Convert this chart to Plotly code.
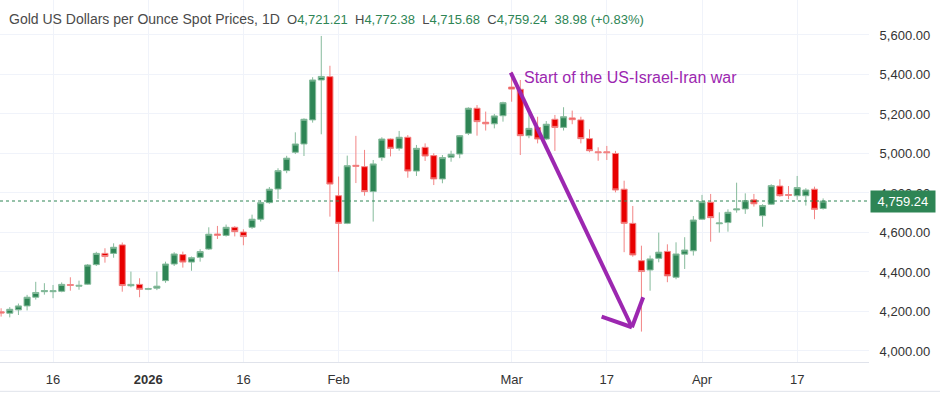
import pandas as pd
import plotly.graph_objects as go

# ---- data ----
holidays = ["2025-12-25", "2026-04-03"]
dates = [d.strftime("%Y-%m-%d") for d in pd.bdate_range("2025-12-08", "2026-04-22")
         if d.strftime("%Y-%m-%d") not in holidays]

opens = [4198, 4191, 4208, 4228, 4272, 4300, 4300, 4302, 4336, 4328,
         4338, 4437, 4494, 4494, 4537, 4330, 4337, 4312, 4318, 4356,
         4440, 4488, 4450, 4474, 4516, 4592, 4585, 4626, 4602, 4626,
         4667, 4751, 4820, 4913, 5006, 5048, 5170, 5372, 5389, 4786,
         4646, 4940, 4933, 4807, 4979, 5073, 5026, 5082, 4911, 5031,
         4989, 4871, 4981, 4997, 5102, 5229, 5158, 5150, 5191, 5336,
         5325, 5090, 5131, 5073, 5173, 5132, 5180, 5170, 5075, 5008,
         5008, 5000, 4819, 4646, 4457, 4410, 4469, 4504, 4373, 4490,
         4507, 4667, 4753, 4644, 4650, 4714, 4719, 4765, 4685, 4743,
         4835, 4792, 4786, 4786, 4819, 4721.21]
highs = [4216, 4222, 4240, 4284, 4350, 4343, 4334, 4347, 4373, 4356,
         4440, 4502, 4520, 4545, 4549, 4402, 4368, 4320, 4402, 4452,
         4500, 4503, 4478, 4515, 4626, 4633, 4640, 4632, 4616, 4690,
         4762, 4830, 4925, 4988, 5107, 5178, 5386, 5595, 5444, 4883,
         4989, 5089, 5018, 4967, 5082, 5076, 5114, 5093, 5043, 5051,
         5001, 4992, 5014, 5093, 5234, 5245, 5212, 5200, 5262, 5414,
         5372, 5200, 5186, 5164, 5195, 5234, 5217, 5186, 5122, 5031,
         5038, 5013, 4862, 4734, 4533, 4483, 4599, 4540, 4550, 4576,
         4683, 4790, 4795, 4702, 4717, 4852, 4798, 4795, 4743, 4844,
         4869, 4835, 4886, 4824, 4832, 4772.38]
lows = [4174, 4170, 4182, 4205, 4260, 4285, 4267, 4297, 4305, 4310,
        4334, 4430, 4447, 4472, 4300, 4322, 4272, 4308, 4308, 4345,
        4430, 4422, 4406, 4452, 4511, 4567, 4579, 4580, 4535, 4618,
        4655, 4745, 4770, 4900, 4997, 4987, 5156, 5097, 4680, 4401,
        4642, 4850, 4786, 4655, 4963, 4985, 5014, 4877, 4886, 4962,
        4840, 4849, 4958, 4976, 5093, 5090, 5116, 5127, 5161, 5262,
        4992, 5077, 5051, 5068, 5013, 5116, 5148, 5051, 5006, 4963,
        4967, 4803, 4500, 4477, 4098, 4305, 4449, 4348, 4363, 4415,
        4483, 4663, 4553, 4599, 4604, 4700, 4694, 4731, 4629, 4739,
        4781, 4768, 4765, 4736, 4667, 4715.68]
closes = [4192, 4211, 4228, 4272, 4296, 4306, 4305, 4337, 4332, 4332,
          4435, 4494, 4478, 4525, 4331, 4337, 4312, 4316, 4328, 4440,
          4491, 4450, 4472, 4503, 4591, 4586, 4626, 4604, 4579, 4667,
          4751, 4819, 4913, 4976, 5048, 5173, 5372, 5390, 4845, 4646,
          4938, 4935, 4807, 4947, 5073, 5026, 5082, 4911, 5026, 4987,
          4871, 4979, 4996, 5090, 5229, 5161, 5150, 5190, 5257, 5326,
          5090, 5127, 5073, 5148, 5132, 5186, 5171, 5075, 5014, 5004,
          5004, 4815, 4646, 4486, 4402, 4466, 4500, 4380, 4491, 4511,
          4663, 4756, 4675, 4648, 4702, 4719, 4761, 4745, 4736, 4837,
          4786, 4788, 4827, 4815, 4717, 4759.24]

tick_dates = ["2025-12-16", "2026-01-01", "2026-01-16", "2026-02-02",
              "2026-03-02", "2026-03-17", "2026-04-01", "2026-04-17"]
tick_labels = ["16", "<b>2026</b>", "16", "Feb", "Mar", "17", "Apr", "17"]
y_ticks = [4000, 4200, 4400, 4600, 4800, 5000, 5200, 5400, 5600]

last_price = closes[-1]
title_text = "Gold US Dollars per Ounce Spot Prices, 1D"
ohlc_text = {"O": "4,721.21", "H": "4,772.38", "L": "4,715.68", "C": "4,759.24"}
change_text = "38.98 (+0.83%)"
note_text = "Start of the US-Israel-Iran war"

# ---- styling ----
GREEN = "#2E8555"
GREEN_WICK = "#86BB9C"
RED = "#E80000"
RED_WICK = "#F28585"
PURPLE = "#9C27B0"
GRID = "#F0F3FA"
FONT = "Liberation Sans"

fig = go.Figure()
fig.add_trace(go.Candlestick(
    x=dates, open=opens, high=highs, low=lows, close=closes,
    increasing=dict(line=dict(color=GREEN_WICK, width=1), fillcolor=GREEN),
    decreasing=dict(line=dict(color=RED_WICK, width=1), fillcolor=RED),
    whiskerwidth=0, showlegend=False, hoverinfo="skip",
))

# current price dotted line
fig.add_shape(type="line", xref="paper", x0=0, x1=1, yref="y",
              y0=last_price, y1=last_price,
              line=dict(color=GREEN, width=1, dash="dot"))

# purple arrow (shaft + head), positions in bar-index units on the category axis
arrow = dict(color=PURPLE, width=4)
fig.add_shape(type="line", xref="x", yref="y", x0=58.9, y0=5409, x1=72.9, y1=4120, line=arrow)
fig.add_shape(type="line", xref="x", yref="y", x0=69.4, y0=4174, x1=72.9, y1=4120, line=arrow)
fig.add_shape(type="line", xref="x", yref="y", x0=72.9, y0=4120, x1=74.2, y1=4272, line=arrow)

fig.add_annotation(x=60.2, y=5384, xref="x", yref="y", text=note_text,
                   showarrow=False, xanchor="left", yanchor="middle",
                   font=dict(family=FONT, size=16, color=PURPLE))

# header
grey = "#4A4A4A"
parts = [f"<span style='font-size:14px'>{title_text}</span>&nbsp;&nbsp;"]
for k, v in ohlc_text.items():
    parts.append(f"<span style='color:{grey}'>{k}</span><span style='color:{GREEN}'>{v}</span>&nbsp;&nbsp;")
parts.append(f"<span style='color:{GREEN}'>{change_text}</span>")
fig.add_annotation(xref="paper", yref="paper", x=0, y=1, xshift=7, yshift=-9,
                   xanchor="left", yanchor="top", showarrow=False,
                   text="".join(parts), font=dict(family=FONT, size=13, color=grey))

# last price label
fig.add_annotation(xref="paper", yref="y", x=1, y=last_price, xshift=1,
                   xanchor="left", yanchor="middle", showarrow=False,
                   text=f"&nbsp;{last_price:,.2f}&nbsp;", bgcolor=GREEN, borderpad=3,
                   font=dict(family=FONT, size=13, color="white"))

# bottom border line of the widget
fig.add_shape(type="line", xref="paper", yref="paper", x0=0, x1=1.09,
              y0=-0.081, y1=-0.081, line=dict(color="#E0E3EB", width=1))

fig.update_layout(
    width=940, height=393,
    margin=dict(l=0, r=71, t=0, b=31),
    paper_bgcolor="white", plot_bgcolor="white",
    boxgap=0.3, boxgroupgap=0,
    font=dict(family=FONT, size=13, color="#333333"),
    showlegend=False,
    xaxis=dict(
        type="category", range=[-0.13, 100.3],
        rangeslider=dict(visible=False),
        tickmode="array", tickvals=tick_dates, ticktext=tick_labels,
        showgrid=True, gridcolor=GRID, gridwidth=1,
        showline=True, linecolor="#E0E3EB", linewidth=1,
        ticks="outside", ticklen=5, tickcolor="rgba(0,0,0,0)",
        tickfont=dict(family=FONT, size=13, color="#333333"),
        zeroline=False, fixedrange=True,
    ),
    yaxis=dict(
        side="right", range=[3944, 5777],
        tickmode="array", tickvals=y_ticks,
        ticktext=[f"{v:,.2f}" for v in y_ticks],
        showgrid=True, gridcolor=GRID, gridwidth=1,
        ticks="outside", ticklen=7, tickcolor="rgba(0,0,0,0)",
        tickfont=dict(family=FONT, size=13, color="#333333"),
        zeroline=False, showline=False, fixedrange=True,
    ),
)

fig.write_html("out.html", config={"displayModeBar": False},
               post_script="document.body.style.margin='0';")
